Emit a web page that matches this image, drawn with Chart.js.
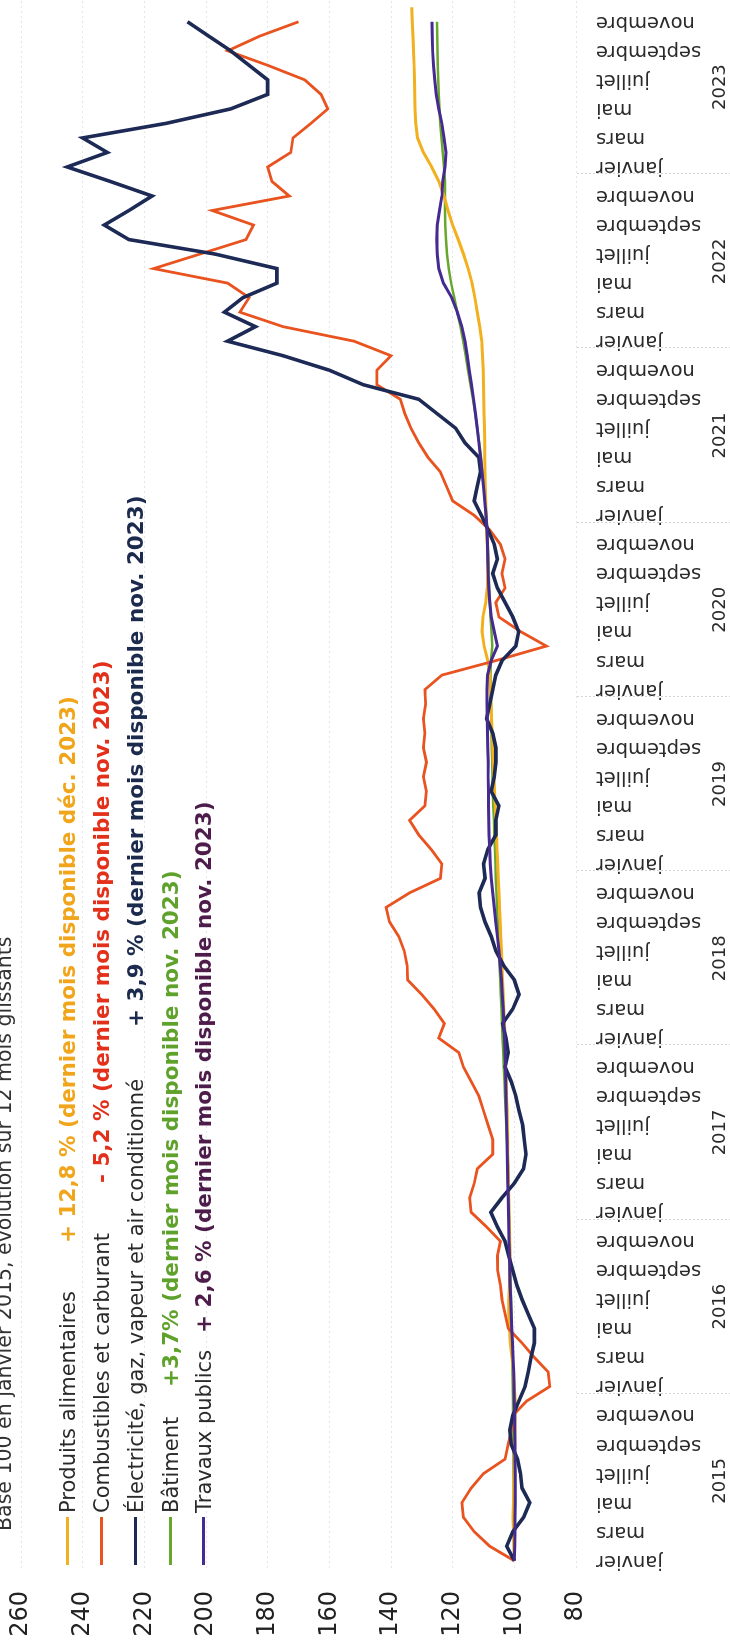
<!DOCTYPE html>
<html lang="fr">
<head>
<meta charset="utf-8">
<script src="https://cdn.jsdelivr.net/npm/chart.js@4"></script>
<style>
  html, body { margin: 0; padding: 0; background: #fff; overflow: hidden; }
  body { width: 730px; height: 1648px; position: relative; }
  .wrap {
    position: absolute; left: 0; top: 0; width: 1648px; height: 730px;
    transform-origin: 0 0; transform: translate(0, 1648px) rotate(-90deg);
    font-family: "DejaVu Sans", sans-serif;
  }
  .wrap canvas { position: absolute; left: 0; top: 0; }
  .title { position: absolute; left: 117px; top: -6px; font-size: 20.5px; line-height: 21px; color: #333; white-space: nowrap; }
  .row { position: absolute; left: 0; height: 24px; width: 1600px; line-height: 24px; white-space: nowrap; }
  .row .mark { position: absolute; left: 83px; top: 10px; width: 48px; height: 3px; }
  .row .lab { position: absolute; left: 135px; top: 0; color: #2a2a2a; font-size: 21px; }
  .row .val { position: absolute; top: 0; font-weight: 700; font-size: 21.5px; }
</style>
</head>
<body>
<div class="wrap">
  <canvas id="c" width="1648" height="730"></canvas>
  <div class="title">Base 100 en janvier 2015, évolution sur 12 mois glissants</div>
  <div id="legend"></div>
</div>
<script>
const months = ['janvier', 'février', 'mars', 'avril', 'mai', 'juin', 'juillet', 'août', 'septembre', 'octobre', 'novembre', 'décembre'];
const years = ['2015', '2016', '2017', '2018', '2019', '2020', '2021', '2022', '2023'];
const yTicks = [80, 100, 120, 140, 160, 180, 200, 220, 240, 260];

// Produits alimentaires (jusqu'à déc. 2023)
const produits = [
  100, 100.2, 100.3, 100.4, 100.3, 100.2, 100.1, 100.0, 99.9, 99.8, 99.8, 99.7,
  100.0, 100.3, 100.8, 101.3, 101.6, 101.8, 101.8, 101.6, 101.5, 101.4, 101.5, 101.6,
  101.7, 101.8, 101.9, 102.0, 102.1, 102.1, 102.2, 102.3, 102.5, 102.6, 102.8, 102.9,
  103.0, 103.2, 103.4, 103.6, 103.8, 104.0, 104.2, 104.4, 104.6, 104.8, 105.0, 105.2,
  105.4, 105.6, 105.8, 106.0, 106.2, 106.4, 106.6, 106.8, 107.0, 107.2, 107.4, 107.6,
  107.8, 108.0, 108.6, 109.8, 110.5, 110.2, 109.3, 108.8, 108.6, 108.6, 108.8, 109.0,
  109.2, 109.3, 109.4, 109.5, 109.6, 109.6, 109.7, 109.8, 109.9, 110.0, 110.1, 110.3,
  110.6, 111.2, 112.0, 112.8, 113.7, 115.0, 116.5, 118.2, 120.0, 121.5, 122.8, 124.5,
  126.8, 129.5, 131.4, 132.0, 132.2, 132.3, 132.4, 132.5, 132.7, 132.9, 133.1, 133.3
];
const combustibles = [
  100, 108, 113, 116.5, 117, 114, 110, 103, 102, 101, 100.5, 96,
  88.5, 89, 93.5, 97.5, 102, 103, 104, 104.5, 105.4, 105.5, 104.5, 109,
  114, 114.5, 113, 112, 107, 107, 108.5, 110, 111.5, 114, 116.5, 118,
  124.5, 122.7, 126, 130, 134.6, 134.8, 135.7, 137.5, 140.5, 141.6, 134, 124,
  123.5, 127, 131, 134, 129, 128.5, 129.5, 128.5, 129.5, 129, 129.5, 128.8,
  129, 123.5, 106, 89.6, 98, 105, 106, 103, 104, 103, 104.5, 108,
  113, 120, 122, 124, 128, 131, 133.5, 135.5, 137, 144.6, 144.6, 140,
  152, 175, 189, 186, 193, 217, 202, 187, 184.6, 198, 173, 178.6,
  180, 172.5, 171.8, 166, 160.5, 162.7, 168, 180, 193, 182.7, 170, null
];
const electricite = [
  100, 102.5, 100.5, 97, 95, 97.5, 98, 99, 101, 101.5, 100.5, 98.5,
  96.5, 95.5, 94.6, 93.5, 93.5, 95.5, 97.5, 99.2, 100.5, 101.8, 103, 105.5,
  107.6, 104, 100, 97, 96.2, 96.8, 97.3, 98.5, 99.5, 101, 103, 102,
  102.7, 103.8, 100.5, 98.5, 100, 103.5, 106, 107.5, 109.5, 111, 111.4, 109.5,
  110, 108.6, 106, 106, 105, 107.5, 106.5, 106, 106, 107, 109, 108,
  107, 106, 104, 99.5, 98.6, 100.5, 103, 105.5, 107, 105.5, 106.5, 108.5,
  110.7, 113, 112, 111, 111.5, 116, 119, 125, 131, 149, 160, 175,
  193, 184, 194, 188, 177, 177, 197, 225, 233, 225, 217.5, 231,
  245, 232, 240, 213, 192, 180, 180, 186, 192, 199, 206, null
];
const batiment = [
  100, 100, 100.1, 100.1, 100.2, 100.2, 100.3, 100.3, 100.3, 100.4, 100.4, 100.4,
  100.5, 100.6, 100.7, 100.8, 100.9, 101.0, 101.1, 101.2, 101.3, 101.4, 101.5, 101.6,
  101.7, 101.8, 101.9, 102.0, 102.2, 102.4, 102.6, 102.8, 103.0, 103.2, 103.4, 103.6,
  103.8, 104.0, 104.2, 104.4, 104.6, 104.8, 105.0, 105.2, 105.4, 105.6, 105.8, 106.0,
  106.1, 106.3, 106.5, 106.6, 106.8, 107.0, 107.1, 107.2, 107.3, 107.4, 107.5, 107.6,
  107.7, 107.8, 107.6, 107.2, 107.4, 107.7, 107.9, 108.1, 108.3, 108.4, 108.6, 108.8,
  109.0, 109.4, 109.8, 110.3, 110.8, 111.4, 112.0, 112.7, 113.4, 114.2, 115.0, 115.8,
  116.6, 117.5, 118.5, 119.5, 120.5, 121.3, 121.8, 122.2, 122.4, 122.5, 122.5, 122.5,
  122.8, 123.2, 123.6, 124.0, 124.3, 124.5, 124.7, 124.8, 124.9, 125.0, 125.1, null
];
const travaux = [
  100, 99.9, 99.8, 99.8, 99.7, 99.7, 99.7, 99.8, 99.8, 99.9, 99.9, 100.0,
  100.1, 100.2, 100.4, 100.6, 100.8, 101.0, 101.2, 101.4, 101.5, 101.6, 101.7, 101.8,
  101.9, 102.0, 102.1, 102.2, 102.3, 102.4, 102.5, 102.6, 102.7, 102.8, 102.9, 103.0,
  103.2, 103.4, 103.6, 103.9, 104.2, 104.6, 105.0, 105.5, 106.0, 106.5, 107.0, 107.5,
  107.8, 108.0, 108.2, 108.3, 108.4, 108.4, 108.5, 108.5, 108.6, 108.7, 108.8, 108.9,
  108.9, 108.7, 107.5, 105.5, 106.5, 107.5, 108.0, 108.3, 108.5, 108.6, 108.7, 108.9,
  109.2, 109.6, 110.0, 110.5, 111.0, 111.5, 112.0, 112.6, 113.2, 113.9, 114.6, 115.3,
  116.0, 117.0, 118.5, 120.3, 123.0, 124.5, 125.0, 125.2, 125.0, 124.3, 123.5, 123.2,
  122.5, 122.2, 122.8, 123.5, 124.5, 125.3, 125.8, 126.2, 126.5, 126.6, 126.7, null
];

const series = [
  { name: 'Produits alimentaires', data: produits, color: '#f2b01e', width: 3, text: '#f0a51a', note: '+ 12,8 % (dernier mois disponible déc. 2023)', at: 405 },
  { name: 'Combustibles et carburant', data: combustibles, color: '#e8531f', width: 2.8, text: '#e3301a', note: '- 5,2 % (dernier mois disponible nov. 2023)', at: 465 },
  { name: 'Électricité, gaz, vapeur et air conditionné', data: electricite, color: '#1c2a55', width: 3.6, text: '#1c2a4e', note: '+ 3,9 % (dernier mois disponible nov. 2023)', at: 621 },
  { name: 'Bâtiment', data: batiment, color: '#67a72c', width: 2.5, text: '#5ea22c', note: '+3,7% (dernier mois disponible nov. 2023)', at: 261 },
  { name: 'Travaux publics', data: travaux, color: '#452a91', width: 3, text: '#4d1c4a', note: '+ 2,6 % (dernier mois disponible nov. 2023)', at: 315 }
];

const labels = years.flatMap(y => months.map(m => m + ' ' + y));

// legend drawn as html, over the chart area
const legendEl = document.getElementById('legend');
const rowCenters = [68, 102, 136, 171, 204];
series.forEach((s, i) => {
  legendEl.innerHTML += `
    <div class="row" style="top:${rowCenters[i] - 12}px">
      <div class="mark" style="background:${s.color}"></div>
      <span class="lab">${s.name}</span>
      <span class="val" style="left:${s.at}px;color:${s.text}">${s.note}</span>
    </div>`;
});

const yearBands = {
  id: 'yearBands',
  afterDraw(chart) {
    const x = chart.scales.x;
    const ctx = chart.ctx;
    const step = x.getPixelForValue(1) - x.getPixelForValue(0);
    ctx.save();
    ctx.font = '18px "DejaVu Sans"';
    ctx.fillStyle = '#2a2a2a';
    ctx.textAlign = 'center';
    ctx.textBaseline = 'middle';
    years.forEach((yr, i) => {
      const a = x.getPixelForValue(i * 12);
      const b = x.getPixelForValue(i * 12 + 11);
      ctx.fillText(yr, (a + b) / 2, 720);
      if (i > 0) {
        ctx.strokeStyle = '#d4d4d8';
        ctx.lineWidth = 1;
        ctx.setLineDash([2, 2]);
        ctx.beginPath();
        ctx.moveTo(Math.round(a - step / 2) + 0.5, 577);
        ctx.lineTo(Math.round(a - step / 2) + 0.5, 730);
        ctx.stroke();
      }
    });
    ctx.restore();
  }
};

new Chart(document.getElementById('c'), {
  type: 'line',
  data: {
    labels: labels,
    datasets: series.map((s, i) => ({
      label: s.name,
      data: s.data,
      borderColor: s.color,
      borderWidth: s.width,
      pointRadius: 0,
      tension: 0,
      fill: false,
      order: [4, 3, 2, 5, 1][i]
    }))
  },
  options: {
    responsive: false,
    animation: false,
    layout: { padding: { top: 21, right: 0, bottom: 0, left: 0 } },
    plugins: { legend: { display: false }, tooltip: { enabled: false } },
    scales: {
      x: {
        offset: true,
        grid: { display: false },
        border: { display: false },
        ticks: {
          autoSkip: false,
          maxRotation: 90,
          minRotation: 90,
          padding: 12,
          color: '#2a2a2a',
          font: { family: 'DejaVu Sans', size: 19.5 },
          callback: (v, i) => i % 2 === 0 ? months[i % 12] : ''
        },
        afterFit: (s) => { s.height = 154; s.paddingLeft = 0; s.paddingRight = 0; }
      },
      y: {
        min: 80,
        max: 260,
        afterBuildTicks: (s) => { s.ticks = yTicks.map(v => ({ value: v })); },
        grid: { color: '#e4e4ea', lineWidth: 1, drawTicks: false },
        border: { display: false, dash: [2, 3] },
        ticks: {
          padding: 23,
          color: '#222',
          font: { family: 'DejaVu Sans', size: 24 }
        },
        afterFit: (s) => { s.width = 80; s.paddingTop = 0; s.paddingBottom = 0; }
      }
    }
  },
  plugins: [yearBands]
});
</script>
</body>
</html>
